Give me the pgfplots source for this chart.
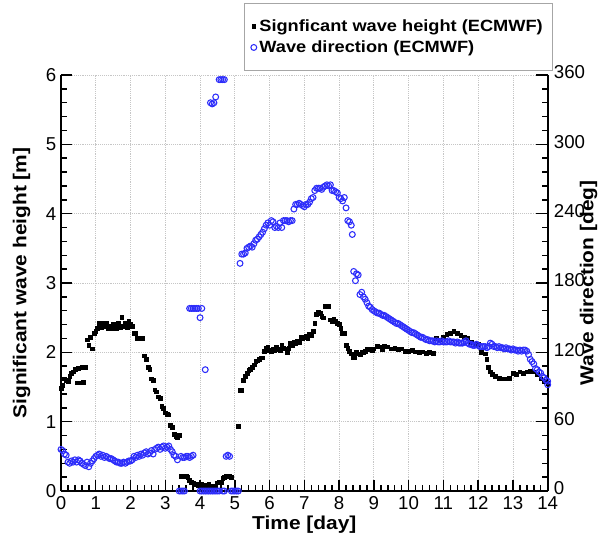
\documentclass[border=0pt]{standalone}
\usepackage{fontspec}
\setmainfont{Liberation Sans}
\newfontfamily\lblfont{Liberation Sans}[FakeStretch=1.12]
\usepackage{pgfplots}
\pgfplotsset{compat=1.18}

\definecolor{dirblue}{RGB}{45,45,250}

\pgfplotsset{
  wavebase/.style={
    scale only axis,
    width=365pt, height=312pt,
    xmin=0, xmax=14,
    clip=false,
    tick align=inside,
    major tick length=8.5pt,
    minor tick length=4.3pt,
    every tick/.style={black, line width=1.1pt},
    axis line style={line width=1.5pt},
    tick label style={font=\fontsize{14}{15}\selectfont},
    label style={font=\lblfont\bfseries\fontsize{14}{16}\selectfont, inner sep=0pt},
    /pgf/number format/assume math mode=true,
  },
}

\begin{document}
\begin{tikzpicture}
% left axis: wave height
\begin{axis}[
  wavebase,
  axis x line*=bottom, axis y line*=left,
  ymin=0, ymax=6,
  xtick={0,1,...,14}, ytick={0,1,...,6},
  minor x tick num=4, minor y tick num=4,
  grid=major,
  major grid style={densely dotted, gray!45, line width=0.6pt},
  xlabel={Time [day]},
  ylabel={Significant wave height [m]},
  xlabel style={at={(axis description cs:0.5,-0.082)}, anchor=center},
  ylabel style={at={(axis description cs:-0.081,0.5)}, anchor=center},
  xticklabel style={inner sep=0.5pt, yshift=-3.5pt},
]
\addplot[only marks, mark=square*, mark size=1.4pt, black] coordinates {
(0.00,1.48) (0.05,1.52) (0.10,1.62) (0.15,1.60) (0.20,1.58) (0.25,1.65)
(0.30,1.70) (0.35,1.72) (0.40,1.76) (0.45,1.56) (0.50,1.77) (0.55,1.56)
(0.60,1.78) (0.65,1.57) (0.70,1.78) (0.75,2.18) (0.80,2.10) (0.85,2.22)
(0.90,2.05) (0.95,2.27) (1.00,2.30) (1.05,2.35) (1.10,2.42) (1.15,2.36)
(1.20,2.42) (1.25,2.38) (1.30,2.42) (1.35,2.35) (1.40,2.38) (1.45,2.34)
(1.50,2.40) (1.55,2.36) (1.60,2.35) (1.65,2.42) (1.70,2.36) (1.75,2.51)
(1.80,2.38) (1.85,2.42) (1.90,2.36) (1.95,2.45) (2.00,2.40) (2.05,2.38)
(2.10,2.28) (2.15,2.28) (2.20,2.20) (2.25,2.20) (2.30,2.20) (2.35,2.20)
(2.40,1.95) (2.45,1.90) (2.50,1.78) (2.55,1.76) (2.60,1.62) (2.65,1.60)
(2.70,1.46) (2.75,1.43) (2.80,1.36) (2.85,1.34) (2.90,1.22) (2.95,1.19)
(3.00,1.13) (3.05,1.11) (3.10,1.10) (3.15,0.95) (3.20,0.92) (3.25,0.82)
(3.30,0.79) (3.35,0.78) (3.40,0.80) (3.45,0.21) (3.50,0.21) (3.55,0.21)
(3.60,0.21) (3.65,0.20) (3.70,0.15) (3.75,0.13) (3.80,0.12) (3.85,0.10)
(3.90,0.10) (3.95,0.08) (4.00,0.08) (4.05,0.10) (4.10,0.09) (4.15,0.08)
(4.20,0.08) (4.25,0.10) (4.30,0.07) (4.35,0.07) (4.40,0.06) (4.45,0.06)
(4.50,0.12) (4.55,0.13) (4.60,0.13) (4.65,0.18) (4.70,0.20) (4.75,0.21)
(4.80,0.21) (4.85,0.21) (4.90,0.20)
(5.10,0.93) (5.15,1.45) (5.20,1.45) (5.25,1.60) (5.30,1.65) (5.35,1.70)
(5.40,1.74) (5.45,1.76) (5.50,1.78) (5.55,1.82) (5.60,1.87) (5.65,1.88)
(5.70,1.90) (5.75,1.92) (5.80,1.92) (5.85,2.02) (5.90,2.06) (5.95,2.08)
(6.00,2.03) (6.05,2.02) (6.10,2.05) (6.15,2.03) (6.20,2.08) (6.25,2.04)
(6.30,2.03) (6.35,2.10) (6.40,2.06) (6.45,2.05) (6.50,2.00) (6.55,2.06)
(6.60,2.13) (6.65,2.10) (6.70,2.15) (6.75,2.13) (6.80,2.16) (6.85,2.14)
(6.90,2.22) (6.95,2.20) (7.00,2.22) (7.05,2.24) (7.10,2.20) (7.15,2.26)
(7.20,2.25) (7.25,2.30) (7.30,2.42) (7.35,2.55) (7.40,2.58) (7.45,2.56)
(7.50,2.52) (7.55,2.50) (7.60,2.66) (7.65,2.66) (7.70,2.66) (7.75,2.47)
(7.80,2.45) (7.85,2.48) (7.90,2.45) (7.95,2.42) (8.00,2.40) (8.05,2.35)
(8.10,2.28) (8.15,2.27) (8.20,2.10) (8.25,2.06) (8.30,2.02) (8.35,1.98)
(8.40,1.93) (8.45,1.92) (8.50,2.00) (8.55,1.98) (8.60,1.97) (8.65,2.00)
(8.70,2.00) (8.75,2.02) (8.80,2.04) (8.85,2.05) (8.90,2.04) (8.95,2.03)
(9.00,2.05) (9.10,2.09) (9.20,2.08) (9.25,2.04) (9.30,2.09) (9.40,2.08)
(9.50,2.05) (9.60,2.06) (9.70,2.04) (9.80,2.05) (9.90,2.02) (10.0,2.02)
(10.1,2.03) (10.2,2.01) (10.3,2.00) (10.4,2.01) (10.5,1.99) (10.6,2.00)
(10.7,1.99) (10.8,2.20) (10.9,2.18) (11.0,2.22) (11.1,2.26) (11.2,2.27)
(11.3,2.30) (11.4,2.28) (11.5,2.25) (11.6,2.22) (11.7,2.21) (11.8,2.15)
(11.9,2.12) (12.0,2.12) (12.1,2.00) (12.2,1.98) (12.25,1.90) (12.3,1.78)
(12.35,1.72) (12.4,1.68) (12.5,1.65) (12.6,1.63) (12.7,1.62) (12.8,1.62)
(12.9,1.63) (13.0,1.70) (13.1,1.68) (13.2,1.72) (13.3,1.70) (13.4,1.72)
(13.5,1.73) (13.6,1.72) (13.7,1.68) (13.8,1.62) (13.9,1.58) (14.0,1.55)
};
\end{axis}
% right axis: wave direction
\begin{axis}[
  wavebase,
  axis x line=none, axis y line*=right,
  ymin=0, ymax=360,
  ytick={0,60,...,360}, minor y tick num=4,
  yticklabel style={xshift=4pt, inner sep=0.5pt, yshift=2pt},
  ylabel={Wave direction [deg]},
  ylabel style={at={(axis description cs:1.084,0.5)}, anchor=center},
  legend style={at={(1.01,1.173)}, anchor=north east,
    draw=gray!70, line width=0.6pt,
    font=\lblfont\bfseries\fontsize{12.2}{11.3}\selectfont,
    inner xsep=5pt, inner ysep=10pt, row sep=1.5pt},
  legend cell align=left,
]
\addlegendimage{only marks, mark=square*, mark size=1.4pt, black}
\addlegendentry{Signficant wave height (ECMWF)}
\addplot[only marks, mark=o, mark size=2.2pt, dirblue, line width=0.8pt] coordinates {
(0.00,36) (0.05,35) (0.10,32) (0.15,31) (0.20,25) (0.25,24) (0.30,26)
(0.35,25) (0.40,27) (0.45,25) (0.50,27) (0.55,26) (0.60,24) (0.65,23)
(0.70,22) (0.75,25) (0.80,21) (0.85,24) (0.90,26) (0.95,28) (1.00,30)
(1.05,31) (1.10,32) (1.15,30) (1.20,31) (1.25,29) (1.30,30) (1.35,29)
(1.40,28) (1.45,28) (1.50,27) (1.55,26) (1.60,25) (1.65,25) (1.70,24)
(1.75,24) (1.80,25) (1.85,24) (1.90,25) (1.95,26) (2.00,26) (2.05,27)
(2.10,30) (2.15,29) (2.20,31) (2.25,30) (2.30,32) (2.35,31) (2.40,33)
(2.45,34) (2.50,32) (2.55,33) (2.60,35) (2.65,32) (2.70,36) (2.75,37)
(2.80,38) (2.85,36) (2.90,38) (2.95,39) (3.00,37) (3.05,38) (3.10,39)
(3.15,36) (3.20,34) (3.25,31) (3.30,30) (3.35,27) (3.45,30) (3.50,29)
(3.55,29) (3.60,30) (3.65,30) (3.70,29) (3.75,30) (3.80,31)
(3.40,0) (3.45,0) (3.50,0) (3.55,0)
(3.70,158) (3.75,158) (3.80,158) (3.85,158) (3.90,158) (3.95,158)
(4.00,150) (4.05,158) (4.15,105)
(4.00,0) (4.05,0) (4.10,0) (4.15,0) (4.20,0) (4.25,0) (4.30,0) (4.35,0)
(4.40,0) (4.45,0) (4.50,0) (4.55,0) (4.65,0) (4.70,0) (4.90,0) (4.95,0)
(5.00,0) (5.05,0) (5.10,0)
(4.30,336) (4.35,335) (4.40,336) (4.45,341) (4.55,356) (4.60,356)
(4.65,356) (4.70,356) (4.75,30) (4.80,31) (4.85,30)
(5.15,197) (5.20,205) (5.25,205) (5.30,206) (5.35,210) (5.40,211)
(5.45,212) (5.50,211) (5.55,214) (5.60,217) (5.65,218) (5.70,220)
(5.75,222) (5.80,224) (5.85,227) (5.90,230) (5.95,232) (6.00,230)
(6.05,234) (6.10,233) (6.15,228) (6.20,229) (6.25,228) (6.30,232)
(6.35,228) (6.40,234) (6.45,234) (6.50,234) (6.55,233) (6.60,234)
(6.65,234) (6.70,244) (6.75,248) (6.80,248) (6.85,249) (6.90,248)
(6.95,247) (7.00,246) (7.05,248) (7.10,248) (7.15,250) (7.20,253)
(7.25,254) (7.30,260) (7.35,262) (7.40,262) (7.45,262) (7.50,261)
(7.55,263) (7.60,264) (7.65,265) (7.70,264) (7.75,265) (7.80,260)
(7.85,260) (7.90,259) (7.95,258) (8.00,254) (8.05,253) (8.10,251)
(8.15,254) (8.20,245) (8.25,234) (8.30,233) (8.35,230) (8.38,222)
(8.42,190) (8.47,182) (8.50,188) (8.55,187)
(8.60,170) (8.65,172) (8.70,168) (8.75,166) (8.80,163) (8.85,160)
(8.90,159) (8.95,157) (9.00,156) (9.05,155) (9.10,154) (9.15,154)
(9.20,153) (9.25,152) (9.30,152) (9.35,151) (9.40,150) (9.45,149)
(9.50,148) (9.55,147) (9.60,146) (9.65,145) (9.70,145) (9.75,144)
(9.80,143) (9.85,142) (9.90,141) (9.95,140) (10.0,139) (10.05,138)
(10.1,137) (10.15,137) (10.2,136) (10.25,135) (10.3,134) (10.35,133)
(10.4,133) (10.45,132) (10.5,131) (10.55,131) (10.6,130) (10.65,130)
(10.7,130) (10.75,129) (10.8,130) (10.85,129) (10.9,129) (10.95,130)
(11.0,129) (11.05,129) (11.1,129) (11.15,130) (11.2,129) (11.25,129)
(11.3,129) (11.35,128) (11.4,129) (11.45,128) (11.5,128) (11.55,128)
(11.6,129) (11.65,130) (11.7,128) (11.75,127) (11.8,127) (11.85,126)
(11.9,126) (11.95,127) (12.0,126) (12.05,125) (12.1,125) (12.15,125)
(12.2,125) (12.25,124) (12.3,125) (12.35,128) (12.4,127) (12.45,125)
(12.5,125) (12.55,124) (12.6,125) (12.65,124) (12.7,124) (12.75,123)
(12.8,124) (12.85,123) (12.9,123) (12.95,122) (13.0,123) (13.05,122)
(13.1,122) (13.15,121) (13.2,122) (13.25,121) (13.3,122) (13.35,122)
(13.4,121) (13.45,118) (13.5,114) (13.55,112) (13.6,110) (13.65,106)
(13.7,105) (13.75,103) (13.8,102) (13.85,99) (13.9,98) (13.95,96)
(14.0,95) (14.0,92)
};
\addlegendentry{Wave direction (ECMWF)}
\end{axis}
\pgfresetboundingbox
\useasboundingbox (-45.75pt,-34.5pt) rectangle (408pt,368.25pt);
\end{tikzpicture}
\end{document}
